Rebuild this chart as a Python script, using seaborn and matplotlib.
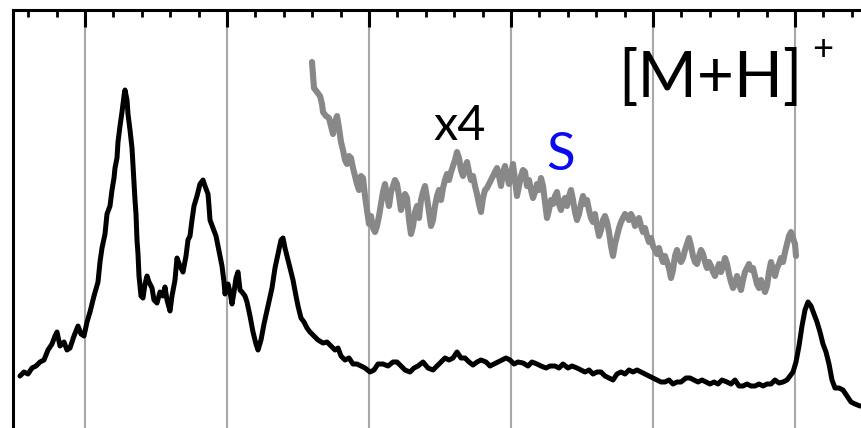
import matplotlib
matplotlib.use("Agg")
import matplotlib.pyplot as plt
import seaborn as sns
from matplotlib.ticker import MultipleLocator

# spectrum (x = channel, y = intensity)
black_x = [20, 24, 28, 32, 36, 40, 44, 48, 52, 55, 57, 60, 64, 67, 70, 74, 78, 81, 84, 87,
           90, 94, 98, 100, 102, 105, 107, 110, 112, 114, 115, 117, 118, 120, 122, 124, 125, 127, 128, 130,
           132, 133, 134, 135, 136, 137, 138, 139, 141, 143, 145, 147, 149, 152, 154, 157, 160, 163, 165, 167,
           170, 172, 175, 177, 180, 183, 186, 188, 190, 192, 194, 197, 200, 203, 205, 208, 209, 210, 213, 216,
           218, 220, 222, 224, 225, 228, 230, 232, 234, 236, 238, 240, 242, 245, 247, 250, 253, 256, 258, 261,
           264, 268, 272, 275, 278, 281, 283, 285, 288, 291, 293, 296, 298, 301, 304, 307, 310, 314, 318, 323,
           327, 331, 335, 338, 341, 345, 349, 353, 357, 361, 365, 370, 374, 378, 383, 388, 393, 397, 401, 405,
           410, 414, 418, 423, 428, 433, 437, 441, 445, 449, 453, 457, 461, 465, 469, 473, 477, 481, 486, 490,
           494, 498, 502, 506, 510, 514, 518, 523, 528, 532, 537, 541, 546, 550, 555, 559, 563, 568, 572, 577,
           581, 585, 589, 593, 597, 601, 605, 609, 613, 617, 621, 625, 629, 633, 637, 641, 645, 649, 653, 657,
           661, 665, 669, 673, 677, 681, 686, 690, 694, 698, 702, 706, 710, 714, 718, 722, 727, 731, 735, 739,
           743, 747, 751, 755, 759, 763, 767, 771, 775, 779, 783, 787, 790, 793, 796, 799, 802, 805, 808, 811,
           814, 817, 820, 823, 826, 829, 832, 835, 839, 843, 847, 851, 855, 860]
black_y = [44, 48, 46, 52, 54, 58, 60, 70, 76, 84, 88, 74, 78, 70, 72, 84, 94, 86, 84, 98,
           108, 124, 138, 158, 172, 186, 206, 214, 230, 242, 252, 262, 278, 294, 308, 324, 330, 320, 306, 290,
           272, 255, 238, 220, 206, 180, 166, 144, 124, 122, 136, 144, 138, 132, 120, 117, 128, 124, 133, 120,
           109, 124, 140, 162, 154, 148, 164, 180, 184, 200, 214, 224, 236, 240, 234, 226, 214, 200, 192, 184,
           174, 164, 154, 138, 126, 136, 128, 116, 128, 142, 148, 130, 128, 124, 118, 104, 88, 76, 70, 80,
           96, 114, 132, 152, 166, 180, 182, 172, 160, 148, 140, 124, 114, 102, 98, 92, 88, 84, 80, 77,
           78, 74, 70, 72, 64, 60, 62, 56, 56, 54, 52, 48, 50, 56, 56, 54, 58, 58, 54, 50,
           48, 52, 54, 58, 52, 50, 54, 58, 62, 60, 62, 68, 62, 62, 58, 55, 58, 60, 58, 54,
           56, 58, 60, 62, 60, 56, 58, 57, 54, 58, 56, 54, 52, 54, 54, 52, 56, 52, 54, 52,
           50, 48, 50, 46, 48, 48, 44, 42, 40, 46, 48, 46, 50, 48, 50, 48, 46, 44, 42, 40,
           38, 38, 40, 36, 38, 38, 42, 42, 40, 38, 40, 38, 36, 38, 36, 40, 38, 36, 40, 34,
           34, 36, 34, 34, 36, 34, 36, 36, 40, 37, 38, 40, 44, 48, 58, 74, 94, 110, 118, 114,
           106, 98, 88, 76, 68, 56, 40, 32, 32, 30, 24, 18, 16, 14]

# x4 magnified segment (grey)
grey_x = [312, 313, 314, 317, 320, 322, 323, 326, 329, 331, 333, 335, 337, 339, 341, 343, 345, 347, 349, 351,
          353, 355, 357, 359, 361, 363, 365, 367, 369, 371, 373, 375, 377, 379, 381, 383, 385, 387, 389, 391,
          393, 395, 397, 399, 401, 403, 405, 407, 409, 411, 413, 415, 417, 419, 421, 423, 425, 427, 429, 431,
          433, 435, 437, 439, 441, 443, 445, 447, 449, 451, 453, 455, 457, 459, 461, 463, 465, 467, 469, 471,
          473, 475, 477, 479, 481, 483, 485, 487, 489, 491, 493, 495, 497, 499, 501, 503, 505, 507, 509, 511,
          513, 515, 517, 519, 521, 523, 525, 527, 529, 531, 533, 535, 537, 539, 541, 543, 545, 547, 549, 551,
          553, 555, 557, 559, 561, 563, 565, 567, 569, 571, 573, 575, 577, 579, 581, 583, 585, 587, 589, 591,
          593, 595, 597, 599, 601, 603, 605, 607, 609, 611, 613, 615, 617, 619, 621, 623, 625, 627, 629, 631,
          633, 635, 637, 639, 641, 643, 645, 647, 649, 651, 653, 655, 657, 659, 661, 663, 665, 667, 669, 671,
          673, 675, 677, 679, 681, 683, 685, 687, 689, 691, 693, 695, 697, 699, 701, 703, 705, 707, 709, 711,
          713, 715, 717, 719, 721, 723, 725, 727, 729, 731, 733, 735, 737, 739, 741, 743, 745, 747, 749, 751,
          753, 755, 757, 759, 761, 763, 765, 767, 769, 771, 773, 775, 777, 779, 781, 783, 785, 787, 789, 791,
          793, 795, 796]
grey_y = [358, 345, 332, 328, 324, 316, 308, 304, 302, 294, 286, 298, 304, 292, 278, 270, 260, 256, 264, 262,
          252, 244, 236, 230, 244, 242, 224, 210, 196, 204, 192, 188, 194, 204, 216, 228, 236, 224, 214, 228,
          234, 240, 236, 224, 210, 218, 226, 222, 200, 186, 194, 208, 214, 202, 220, 228, 234, 222, 208, 194,
          200, 214, 224, 230, 220, 232, 240, 246, 240, 248, 254, 260, 268, 262, 250, 244, 252, 258, 248, 240,
          244, 234, 226, 216, 208, 222, 230, 232, 236, 240, 244, 248, 252, 244, 234, 248, 254, 244, 236, 246,
          256, 240, 224, 234, 244, 250, 248, 234, 240, 230, 222, 228, 236, 230, 242, 234, 218, 202, 210, 220,
          216, 224, 228, 216, 210, 218, 222, 214, 224, 230, 220, 208, 200, 206, 216, 224, 216, 220, 210, 202,
          198, 206, 194, 184, 190, 200, 204, 198, 188, 174, 164, 176, 184, 192, 198, 202, 206, 204, 200, 206,
          202, 194, 198, 202, 194, 188, 192, 184, 178, 182, 174, 170, 166, 172, 164, 158, 164, 158, 152, 142,
          150, 164, 170, 162, 158, 162, 170, 176, 182, 174, 164, 158, 156, 164, 170, 166, 158, 152, 158, 154,
          148, 144, 150, 156, 148, 154, 162, 156, 146, 138, 132, 136, 144, 136, 130, 140, 148, 152, 156, 150,
          152, 144, 136, 132, 140, 134, 128, 134, 148, 158, 150, 144, 152, 156, 162, 158, 168, 176, 184, 188,
          182, 176, 164]

sns.set_style("white")
plt.rcParams['font.family'] = ['Lato', 'DejaVu Sans']

fig = plt.figure(figsize=(8.62, 4.28), dpi=100)
# plot area is cropped on the right and bottom, like the reference
ax = fig.add_axes([13 / 862, -0.1, 1.0, 1.0766])

sns.lineplot(x=grey_x, y=grey_y, color="#888888", lw=4.4, estimator=None, sort=False, ax=ax)
sns.lineplot(x=black_x, y=black_y, color="black", lw=3.6, estimator=None, sort=False, ax=ax)

ax.set_xlim(13, 875)
ax.set_ylim(-50.8, 410)

ax.xaxis.set_major_locator(MultipleLocator(142, offset=85))
ax.xaxis.set_minor_locator(MultipleLocator(28.4, offset=85))
ax.set_yticks([])
ax.tick_params(axis="x", which="both", direction="in", top=True, bottom=False,
               labeltop=False, labelbottom=False, color="black")
ax.tick_params(axis="x", which="major", length=12, width=2.2)
ax.tick_params(axis="x", which="minor", length=5, width=2)
ax.grid(axis="x", which="major", color="#a8a8a8", lw=1.5)
ax.set_axisbelow(True)

for side in ["top", "left"]:
    ax.spines[side].set_color("black")
    ax.spines[side].set_linewidth(2.2)
ax.spines["right"].set_visible(False)
ax.spines["bottom"].set_visible(False)

ax.text(460, 280, "x4", fontsize=35, color="black", ha="center", va="baseline")
ax.text(561, 250, "S", fontsize=38, color="#0a0af0", ha="center", va="baseline")
ax.text(710, 323, "[M+H]", fontsize=46, color="black", ha="center", va="baseline")
ax.text(823, 371, "+", fontsize=26, color="black", ha="center", va="center")

ax.set_xlabel("")
ax.set_ylabel("")
fig.savefig("out.png", dpi=100)
